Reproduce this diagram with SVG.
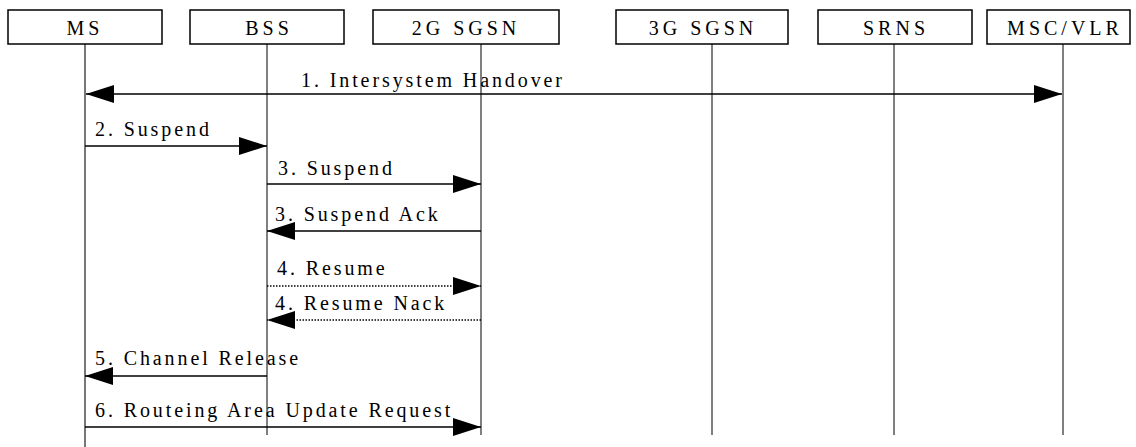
<svg xmlns="http://www.w3.org/2000/svg" width="1136" height="447" viewBox="0 0 1136 447">
<style>
.box{fill:#fff;stroke:#000;stroke-width:1.5}
.bt{font-family:'Liberation Serif','Times New Roman',Times,serif;font-size:20px;letter-spacing:4px;fill:#000;text-anchor:middle}
.life{stroke:#000;stroke-width:1}
.msg{stroke:#000;stroke-width:1.6;fill:none}
.dot{stroke-dasharray:1.5,1.5}
.lbl{font-family:'Liberation Serif','Times New Roman',Times,serif;font-size:20px;letter-spacing:2.9px;fill:#000}
</style>
<defs>
<marker id="ah" markerUnits="userSpaceOnUse" markerWidth="29" markerHeight="18" refX="28" refY="9" orient="auto">
<path d="M0,0 L28,9 L0,18 Z" fill="#000"/>
</marker>
</defs>
<g id="lifelines">
<line x1="85" y1="44" x2="85" y2="447" stroke="#777" stroke-width="2"/>
<line class="life" x1="267" y1="44" x2="267" y2="435"/>
<line class="life" x1="481" y1="44" x2="481" y2="435"/>
<line class="life" x1="712" y1="44" x2="712" y2="435"/>
<line class="life" x1="894" y1="44" x2="894" y2="435"/>
<line class="life" x1="1063" y1="44" x2="1063" y2="435"/>
</g>
<g id="MS"><rect class="box" x="8" y="10" width="154" height="34"/><text class="bt" x="85" y="35">MS</text></g>
<g id="BSS"><rect class="box" x="190" y="10" width="154" height="34"/><text class="bt" x="269" y="35">BSS</text></g>
<g id="SGSN2G"><rect class="box" x="373" y="10" width="186" height="34"/><text class="bt" x="466" y="35">2G SGSN</text></g>
<g id="SGSN3G"><rect class="box" x="616" y="10" width="172" height="34"/><text class="bt" x="703" y="35">3G SGSN</text></g>
<g id="SRNS"><rect class="box" x="818" y="10" width="154" height="34"/><text class="bt" x="896" y="35">SRNS</text></g>
<g id="MSCVLR"><rect class="box" x="987" y="10" width="143" height="34"/><text class="bt" x="1065" y="35">MSC/VLR</text></g>
<g id="connectors">
<line class="msg" x1="480" y1="94" x2="86" y2="94" marker-end="url(#ah)"/>
<line class="msg" x1="480" y1="94" x2="1062" y2="94" marker-end="url(#ah)"/>
<line class="msg" x1="85" y1="146" x2="267" y2="146" marker-end="url(#ah)"/>
<line class="msg" x1="267" y1="184" x2="481" y2="184" marker-end="url(#ah)"/>
<line class="msg" x1="481" y1="231" x2="267" y2="231" marker-end="url(#ah)"/>
<line class="msg dot" x1="267" y1="286" x2="481" y2="286" marker-end="url(#ah)"/>
<line class="msg dot" x1="481" y1="320" x2="267" y2="320" marker-end="url(#ah)"/>
<line class="msg" x1="267" y1="376" x2="85" y2="376" marker-end="url(#ah)"/>
<line class="msg" x1="85" y1="427" x2="481" y2="427" marker-end="url(#ah)"/>
</g>
<g id="labels">
<text class="lbl" x="301" y="87">1. Intersystem Handover</text>
<text class="lbl" x="95" y="136">2. Suspend</text>
<text class="lbl" x="278" y="175">3. Suspend</text>
<text class="lbl" x="275" y="221">3. Suspend Ack</text>
<text class="lbl" x="277" y="275">4. Resume</text>
<text class="lbl" x="275" y="310">4. Resume Nack</text>
<text class="lbl" x="95" y="365">5. Channel Release</text>
<text class="lbl" x="95" y="417">6. Routeing Area Update Request</text>
</g>
</svg>
